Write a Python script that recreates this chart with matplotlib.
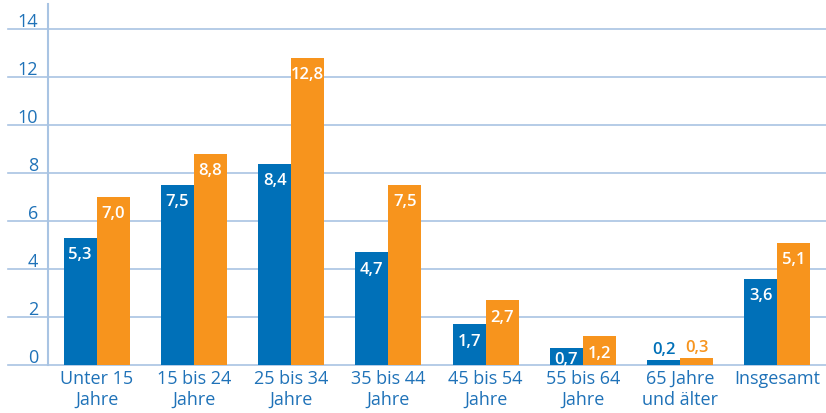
import matplotlib.pyplot as plt
import numpy as np

plt.rcParams['font.family'] = ['Open Sans', 'DejaVu Sans']

# Data
categories = ["Unter 15\nJahre", "15 bis 24\nJahre", "25 bis 34\nJahre", "35 bis 44\nJahre",
              "45 bis 54\nJahre", "55 bis 64\nJahre", "65 Jahre\nund älter", "Insgesamt"]
series_a = [5.3, 7.5, 8.4, 4.7, 1.7, 0.7, 0.2, 3.6]
series_b = [7.0, 8.8, 12.8, 7.5, 2.7, 1.2, 0.3, 5.1]
yticks = [0, 2, 4, 6, 8, 10, 12, 14]

BLUE = "#0070b8"
ORANGE = "#f7941d"
TEXT = "#1f72b8"
GRID = "#a9c4e3"

fig = plt.figure(figsize=(8.26, 4.14), dpi=100)
ax = fig.add_axes([48 / 826, 48 / 414, 778 / 826, 361 / 414])

x = np.arange(len(categories))
w = 0.34

# gridlines extend left of the axis
ext = 40 / 778
for v in yticks:
    ax.axhline(v, xmin=-ext, xmax=1, color=GRID, lw=1.2, clip_on=False, zorder=0)
    ax.text(-10 / 778, v + 0.13, str(v), transform=ax.get_yaxis_transform(),
            ha="right", va="baseline", color=TEXT, fontsize=13)

bars_a = ax.bar(x - w / 2, series_a, w, color=BLUE, zorder=2)
bars_b = ax.bar(x + w / 2, series_b, w, color=ORANGE, zorder=2)


def label(bars, values, color):
    for b, v in zip(bars, values):
        cx = b.get_x() + b.get_width() / 2
        txt = f"{v:.1f}".replace(".", ",")
        if v < 0.5:
            ax.annotate(txt, (cx, v), xytext=(0, 2), textcoords="offset points",
                        ha="center", va="bottom", color=color, fontsize=12,
                        fontweight="semibold", zorder=3)
        elif v < 1:
            ax.annotate(txt, (cx, v / 2), ha="center", va="center_baseline",
                        color="white", fontsize=12, fontweight="semibold", zorder=3)
        else:
            ax.annotate(txt, (cx, v), xytext=(0, -6), textcoords="offset points",
                        ha="center", va="top", color="white", fontsize=12,
                        fontweight="semibold", zorder=3)


label(bars_a, series_a, BLUE)
label(bars_b, series_b, ORANGE)

ax.set_xlim(-0.5, 7.5)
ax.set_ylim(0, 15.05)
ax.set_xticks(x)
ax.set_xticklabels(categories, color=TEXT, fontsize=13, linespacing=1.2)
ax.tick_params(axis="x", length=0, pad=3)
ax.set_yticks([])

for s in ["top", "right", "bottom"]:
    ax.spines[s].set_visible(False)
ax.spines["left"].set_color(GRID)
ax.spines["left"].set_linewidth(1.5)

fig.savefig("out.png", dpi=100)
